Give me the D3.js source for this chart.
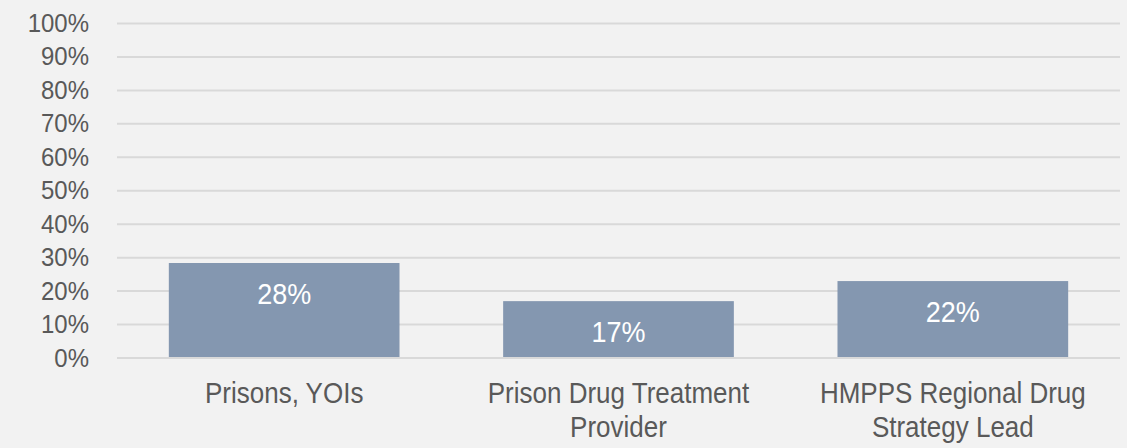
<!DOCTYPE html>
<html>
<head>
<meta charset="utf-8">
<script src="https://cdn.jsdelivr.net/npm/d3@7"></script>
<style>
  body { margin: 0; background: #f2f2f2; }
  svg { display: block; font-family: "Liberation Sans", Arial, sans-serif; }
</style>
</head>
<body>
<svg width="1127" height="448"></svg>
<script>
var categories = [
	["Prisons, YOIs"],
	["Prison Drug Treatment", "Provider"],
	["HMPPS Regional Drug", "Strategy Lead"]
];
var values = [28.4, 17.0, 23.0];
var valueLabels = ["28%", "17%", "22%"];
var yTicks = [0, 10, 20, 30, 40, 50, 60, 70, 80, 90, 100];

var svg = d3.select("svg");
var stretch = 1.1; // text in the picture is a little taller than plain Arial

var xScale = d3.scaleBand()
	.domain(d3.range(categories.length))
	.range([117, 1120])
	.paddingInner(0.31)
	.paddingOuter(0.155);
var yScale = d3.scaleLinear().domain([0, 100]).range([358, 23.5]);

function place(x, y) {
	return "translate(" + x + "," + y + ") scale(1," + stretch + ")";
}

// gridlines
svg.append("g")
	.selectAll("line")
	.data(yTicks)
	.enter().append("line")
	.attr("x1", 117)
	.attr("x2", 1120)
	.attr("y1", function(d) { return yScale(d); })
	.attr("y2", function(d) { return yScale(d); })
	.style("stroke", "#d9d9d9")
	.style("stroke-width", 2);

// y tick labels
svg.append("g")
	.selectAll("text")
	.data(yTicks)
	.enter().append("text")
	.attr("transform", function(d) { return place(89, yScale(d) + 8.5); })
	.attr("text-anchor", "end")
	.style("font-size", "24px")
	.style("fill", "#595959")
	.text(function(d) { return d + "%"; });

// bars
svg.append("g")
	.selectAll("rect")
	.data(values)
	.enter().append("rect")
	.attr("x", function(d, i) { return xScale(i); })
	.attr("y", function(d) { return yScale(d); })
	.attr("width", xScale.bandwidth())
	.attr("height", function(d) { return yScale(0) - 1 - yScale(d); })
	.style("fill", "#8497b0");

// value labels
svg.append("g")
	.selectAll("text")
	.data(values)
	.enter().append("text")
	.attr("transform", function(d, i) {
		return place(xScale(i) + xScale.bandwidth() / 2, yScale(d) + 41);
	})
	.attr("text-anchor", "middle")
	.style("font-size", "27px")
	.style("fill", "#ffffff")
	.text(function(d, i) { return valueLabels[i]; });

// category labels
var cat = svg.append("g")
	.selectAll("text")
	.data(categories)
	.enter().append("text")
	.attr("text-anchor", "middle")
	.attr("transform", function(d, i) {
		return place(xScale(i) + xScale.bandwidth() / 2, 403);
	})
	.style("font-size", "26px")
	.style("fill", "#595959");

cat.selectAll("tspan")
	.data(function(d) { return d; })
	.enter().append("tspan")
	.attr("x", 0)
	.attr("dy", function(d, i) { return i === 0 ? 0 : 34 / stretch; })
	.text(function(d) { return d; });
</script>
</body>
</html>
